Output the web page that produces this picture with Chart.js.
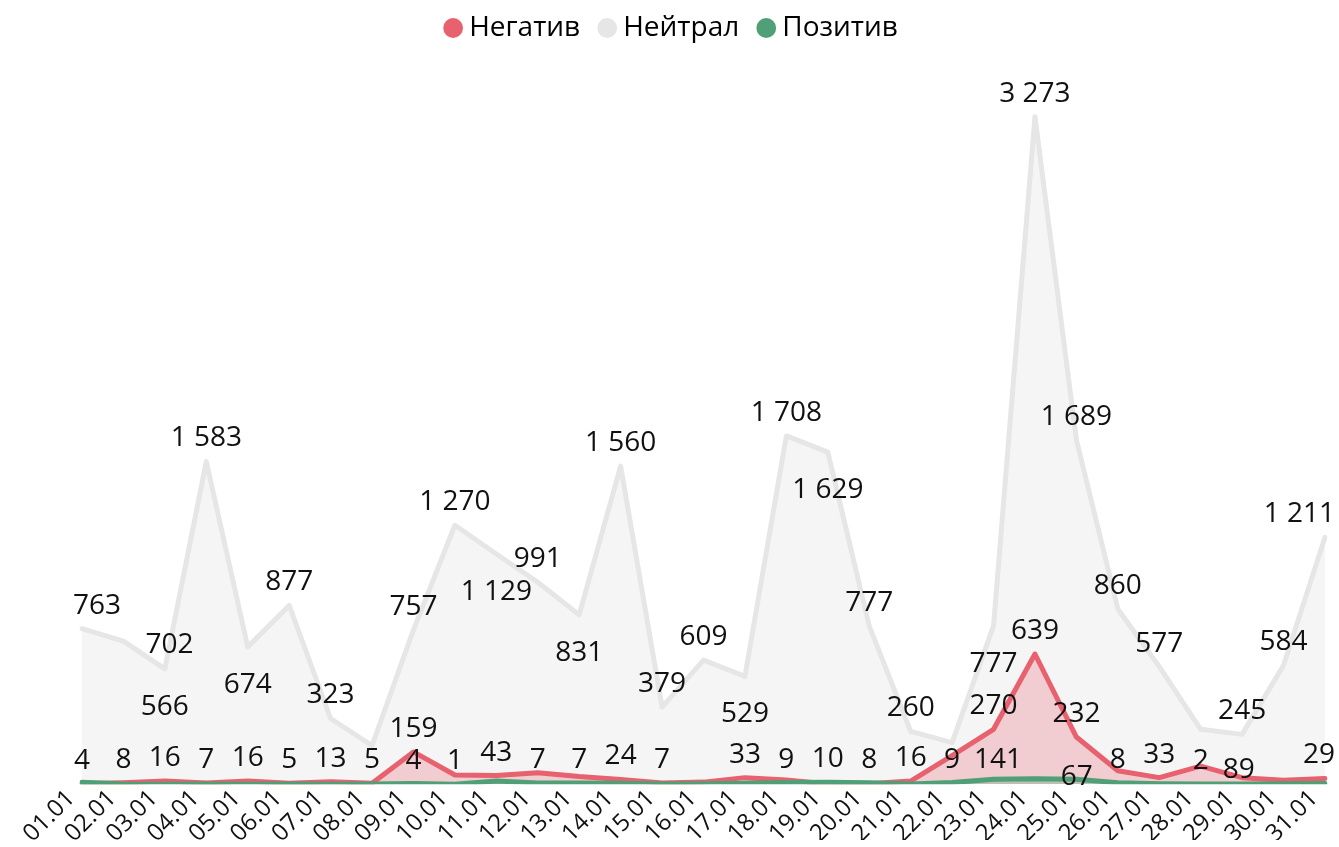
<!DOCTYPE html>
<html>
<head>
<meta charset="utf-8">
<script src="https://cdn.jsdelivr.net/npm/chart.js@4/dist/chart.umd.min.js"></script>
<style>
html,body{margin:0;padding:0;background:#fff;}
#wrap{width:1339px;height:847px;position:relative;}
</style>
</head>
<body>
<div id="wrap"><canvas id="c"></canvas></div>
<script>
// ---- data ----
const categories = ['01.01','02.01','03.01','04.01','05.01','06.01','07.01','08.01','09.01','10.01',
  '11.01','12.01','13.01','14.01','15.01','16.01','17.01','18.01','19.01','20.01',
  '21.01','22.01','23.01','24.01','25.01','26.01','27.01','28.01','29.01','30.01','31.01'];
const seriesNames = ['Негатив','Нейтрал','Позитив'];
const negativeValues = [4, 8, 16, 7, 16, 5, 13, 5, 159, 46, 43, 57, 38, 24, 7, 11, 33, 21, 2, 3,
  16, 141, 270, 639, 232, 67, 33, 89, 33, 20, 29];
const neutralValues = [763, 702, 566, 1583, 674, 877, 323, 190, 757, 1270, 1129, 991, 831, 1560, 379, 609, 529, 1708, 1629, 777,
  260, 205, 777, 3273, 1689, 860, 577, 270, 245, 584, 1211];
const positiveValues = [10, 2, 1, 2, 1, 2, 1, 2, 4, 1, 16, 7, 7, 5, 2, 3, 6, 9, 10, 8,
  2, 9, 25, 28, 25, 8, 3, 2, 2, 3, 4];
// label placement: t = above, b = below, r = right, l = left, '' = hidden
const negativeLabelPlace = ['t','t','t','t','t','t','t','t','t','', 't','','','t','t','','t','','','',
  't','r','t','t','t','l','t','r','','','t'];
const neutralLabelPlace = ['t','r','b','t','b','t','t','','t','t', 'b','t','b','t','t','t','b','t','b','t',
  't','','b','t','t','t','t','','t','t','t'];
const positiveLabelPlace = ['','','','','','','','','t','t', '','t','t','','','','','t','t','t',
  '','t','','','','t','','t','','',''];

const colors = {
  neg: 'rgb(232,97,110)', negFill: 'rgba(232,97,110,0.27)',
  neu: 'rgb(230,230,230)', neuFill: 'rgba(230,230,230,0.42)',
  pos: 'rgb(79,159,119)', posFill: 'rgba(79,159,119,0.30)'
};
const FONT = '"Open Sans", "Noto Sans", sans-serif';

function fmt(v){ return String(v).replace(/\B(?=(\d{3})+(?!\d))/g, ' '); }

const labelPlugin = {
  id: 'pointLabels',
  afterDatasetsDraw(chart) {
    const ctx = chart.ctx, area = chart.chartArea;
    ctx.save();
    ctx.font = '28px ' + FONT;
    ctx.fillStyle = '#111';
    ctx.textAlign = 'center';
    ctx.textBaseline = 'alphabetic';
    chart.data.datasets.forEach((ds, di) => {
      const meta = chart.getDatasetMeta(di);
      const places = ds.labelPlace;
      meta.data.forEach((pt, i) => {
        const p = places[i];
        if (!p) return;
        const text = fmt(ds.data[i]);
        const w = ctx.measureText(text).width;
        let cx = pt.x, cy = pt.y;
        if (p === 't') cy = pt.y - 25;
        else if (p === 'b') cy = pt.y + 36;
        else if (p === 'r') { cx = pt.x + 22 + w / 2; cy = pt.y + 2; }
        else if (p === 'l') { cx = pt.x - 25 - w / 2; cy = pt.y + 4; }
        const minL = area.left - 9, maxR = area.right + 10;
        if (cx - w / 2 < minL) cx = minL + w / 2;
        if (cx + w / 2 > maxR) cx = maxR - w / 2;
        ctx.fillText(text, cx, cy + 10);
      });
    });
    ctx.restore();
  }
};

const hiddenAxis = (w, pos) => ({
  position: pos, display: true,
  grid: { display: false }, border: { display: false }, ticks: { display: false },
  afterFit(scale) { scale.width = w; }
});

new Chart(document.getElementById('c'), {
  type: 'line',
  data: {
    labels: categories,
    datasets: [
      { label: seriesNames[0], data: negativeValues, labelPlace: negativeLabelPlace,
        borderColor: colors.neg, backgroundColor: colors.negFill, fill: 'origin', order: 1 },
      { label: seriesNames[1], data: neutralValues, labelPlace: neutralLabelPlace,
        borderColor: colors.neu, backgroundColor: colors.neuFill, fill: 'origin', order: 2 },
      { label: seriesNames[2], data: positiveValues, labelPlace: positiveLabelPlace,
        borderColor: colors.pos, backgroundColor: colors.posFill, fill: 'origin', order: 0 }
    ]
  },
  options: {
    responsive: true,
    maintainAspectRatio: false,
    animation: false,
    elements: {
      line: { borderWidth: 5, tension: 0, borderJoinStyle: 'round', borderCapStyle: 'round' },
      point: { radius: 0, hoverRadius: 0 }
    },
    layout: { padding: { left: 10, right: 0, top: -11, bottom: 7 } },
    plugins: {
      tooltip: { enabled: false },
      legend: {
        position: 'top', align: 'center',
        labels: {
          usePointStyle: true, boxWidth: 4, boxHeight: 14, padding: 25,
          color: '#111', font: { family: FONT, size: 28 },
          generateLabels(chart) {
            return chart.data.datasets.map((ds, i) => ({
              text: ds.label, fillStyle: ds.borderColor, strokeStyle: ds.borderColor,
              lineWidth: 0, pointStyle: 'circle', hidden: false, datasetIndex: i
            }));
          }
        }
      }
    },
    scales: {
      x: {
        offset: false,
        grid: { display: false }, border: { display: false },
        ticks: { autoSkip: false, minRotation: 45, maxRotation: 45, padding: -8, labelOffset: -11,
          color: '#111', font: { family: FONT, size: 24 } }
      },
      y: Object.assign(hiddenAxis(72, 'left'), { min: 0, max: 3590 }),
      yRight: Object.assign(hiddenAxis(14, 'right'), { min: 0, max: 1 })
    }
  },
  plugins: [labelPlugin]
});
</script>
</body>
</html>
